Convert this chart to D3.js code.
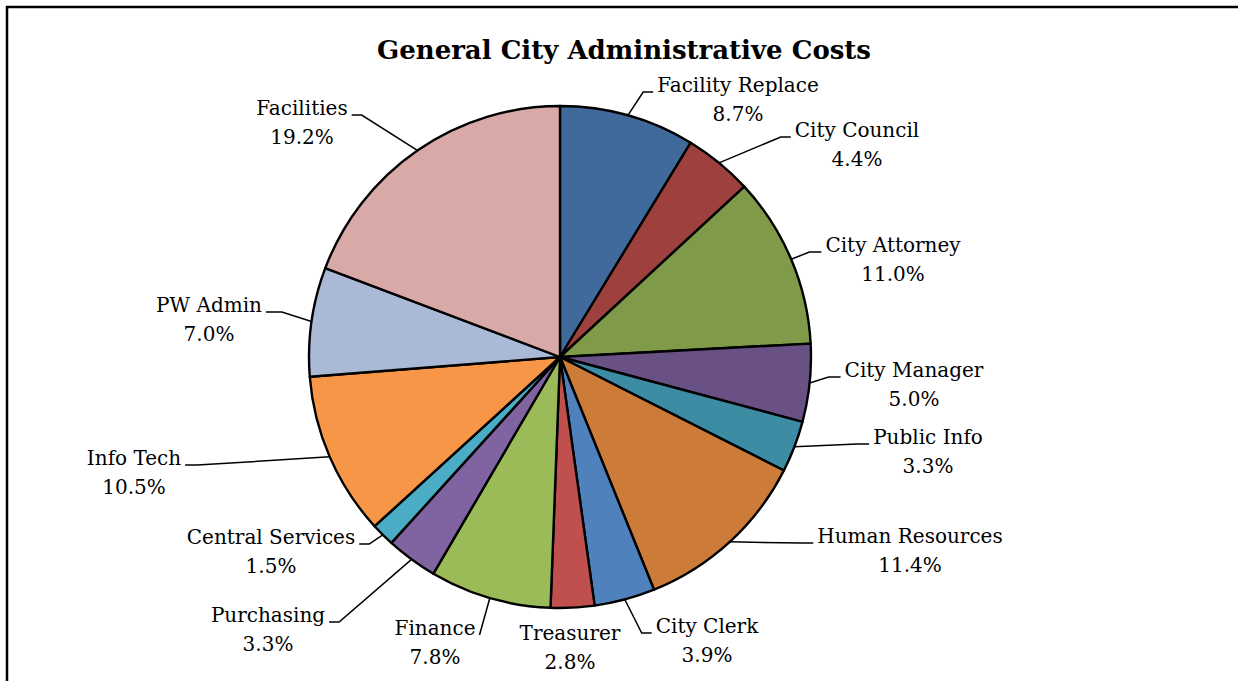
<!DOCTYPE html>
<html>
<head>
<meta charset="utf-8">
<script src="https://cdn.jsdelivr.net/npm/d3@7"></script>
<style>
  body { margin: 0; background: #fff; }
  text { font-family: "DejaVu Serif", "Liberation Serif", serif; fill: #000; }
</style>
</head>
<body>
<div id="chart"></div>
<script>
// data (percent of total)
const departments = ["Facility Replace", "City Council", "City Attorney", "City Manager", "Public Info",
  "Human Resources", "City Clerk", "Treasurer", "Finance", "Purchasing", "Central Services",
  "Info Tech", "PW Admin", "Facilities"];
const shares = [8.7, 4.4, 11.0, 5.0, 3.3, 11.4, 3.9, 2.8, 7.8, 3.3, 1.5, 10.5, 7.0, 19.2];
const colors = ["#40699c", "#9e413e", "#7f9a48", "#695185", "#3c8da3", "#cc7b38", "#4f81bd",
  "#c0504d", "#9bbb59", "#8064a2", "#4bacc6", "#f79646", "#a9b9d6", "#d9a9a8"];

// where each label sits (center x, first line baseline) and its leader arm
const labelLayout = [
  {x: 738, y: 92, arm: 10}, {x: 857, y: 137, arm: 10}, {x: 893, y: 252, arm: 12},
  {x: 914, y: 377, arm: 12}, {x: 928, y: 444, arm: 12}, {x: 910, y: 543, arm: 12},
  {x: 707, y: 633, arm: 10}, {x: 570, y: 640, arm: null}, {x: 435, y: 635, arm: 0},
  {x: 268, y: 622, arm: 10}, {x: 271, y: 544, arm: 10}, {x: 134, y: 465, arm: 12},
  {x: 209, y: 312, arm: 16}, {x: 302, y: 115, arm: 10}
];

const W = 1238, H = 681;
const cx = 560, cy = 357, radius = 251;
const lineGap = 28.5;

const svg = d3.select("#chart").append("svg")
  .attr("width", W)
  .attr("height", H);

// outer frame, right and bottom run off the picture
svg.append("rect")
  .attr("x", 7).attr("y", 7)
  .attr("width", W + 20).attr("height", H + 20)
  .attr("fill", "none")
  .attr("stroke", "#000")
  .attr("stroke-width", 2.5);

svg.append("text")
  .attr("x", 624)
  .attr("y", 59)
  .attr("text-anchor", "middle")
  .style("font-size", "26px")
  .style("font-weight", "bold")
  .text("General City Administrative Costs");

const rows = departments.map((d, i) => ({name: d, value: shares[i], color: colors[i], pos: labelLayout[i]}));

const pie = d3.pie().sort(null).value(d => d.value);
const arcs = pie(rows);
const arc = d3.arc().innerRadius(0).outerRadius(radius);

const g = svg.append("g").attr("transform", `translate(${cx},${cy})`);

g.selectAll("path.slice")
  .data(arcs)
  .join("path")
  .attr("class", "slice")
  .attr("d", arc)
  .attr("fill", d => d.data.color)
  .attr("stroke", "#000")
  .attr("stroke-width", 2.4)
  .attr("stroke-linejoin", "round");

// labels
const labels = svg.selectAll("g.label")
  .data(arcs)
  .join("g")
  .attr("class", "label");

labels.append("text")
  .attr("class", "name")
  .attr("x", d => d.data.pos.x)
  .attr("y", d => d.data.pos.y)
  .attr("text-anchor", "middle")
  .style("font-size", "20px")
  .text(d => d.data.name);

labels.append("text")
  .attr("x", d => d.data.pos.x)
  .attr("y", d => d.data.pos.y + lineGap)
  .attr("text-anchor", "middle")
  .style("font-size", "20px")
  .text(d => d3.format(".1f")(d.data.value) + "%");

// leader lines: from the slice edge at mid angle to the label's first line
labels.each(function(d) {
  if (d.data.pos.arm === null) return;
  const mid = (d.startAngle + d.endAngle) / 2;
  const x0 = cx + radius * Math.sin(mid), y0 = cy - radius * Math.cos(mid);
  const w = d3.select(this).select("text.name").node().getComputedTextLength();
  const right = d.data.pos.x > cx;
  const xe = right ? d.data.pos.x - w / 2 - 4 : d.data.pos.x + w / 2 + 4;
  const ye = d.data.pos.y;
  const xk = right ? xe - d.data.pos.arm : xe + d.data.pos.arm;
  d3.select(this).insert("path", "text")
    .attr("d", d3.line()([[x0, y0], [xk, ye], [xe, ye]]))
    .attr("fill", "none")
    .attr("stroke", "#000")
    .attr("stroke-width", 1.5);
});
</script>
</body>
</html>
